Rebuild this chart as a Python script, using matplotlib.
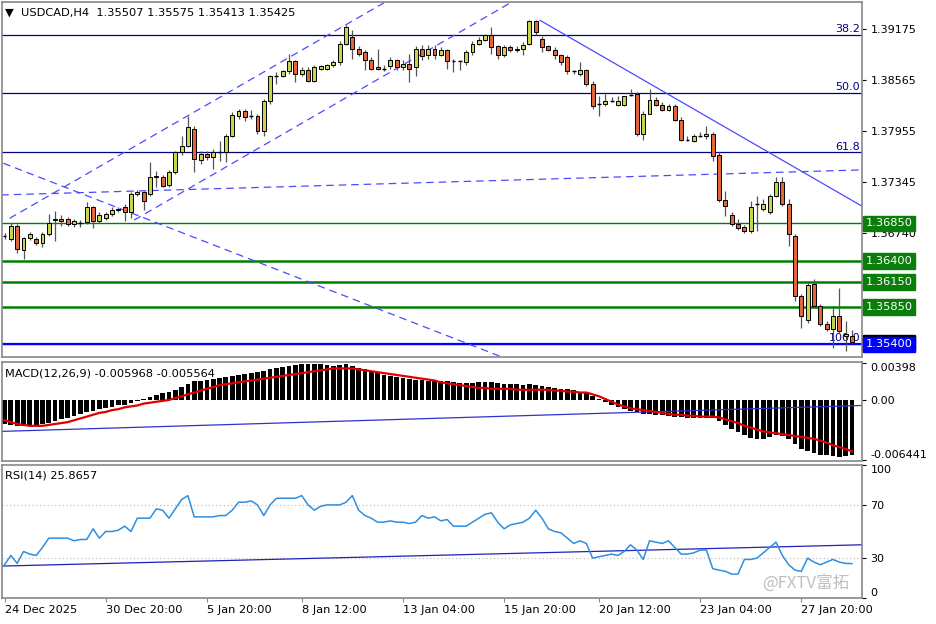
import numpy as np
import matplotlib
matplotlib.use("Agg")
import matplotlib.pyplot as plt
from matplotlib.transforms import blended_transform_factory as btf

# ---- price data (units of 1e-4) ----
opens_p = [13670,13666,13682,13653,13668,13666,13662,13672,13689,13690,13690,13684,13686,13687,13704,13688,13692,13696,13701,13704,
 13698,13720,13722,13720,13741,13741,13731,13747,13770,13778,13798,13761,13768,13764,13770,13771,13790,13814,13820,13814,
 13814,13795,13831,13862,13862,13867,13879,13864,13869,13856,13870,13870,13874,13878,13900,13908,13894,13890,13881,13872,
 13870,13873,13880,13872,13876,13872,13894,13886,13894,13887,13892,13879,13879,13878,13890,13900,13905,13910,13897,13886,
 13896,13892,13894,13900,13927,13906,13897,13893,13886,13884,13867,13864,13868,13852,13828,13828,13832,13827,13827,13839,
 13840,13792,13816,13833,13827,13821,13826,13809,13785,13784,13790,13789,13792,13767,13713,13695,13684,13681,13676,13708,
 13702,13699,13718,13734,13708,13670,13598,13569,13612,13586,13564,13558,13574,13550,13550.7]
closes_p = [13670,13682,13654,13668,13672,13662,13672,13686,13690,13688,13684,13688,13686,13704,13688,13695,13696,13701,13702,13698,
 13720,13723,13712,13740,13742,13730,13747,13770,13778,13800,13762,13768,13764,13770,13770,13790,13815,13819,13812,13814,
 13795,13832,13861,13862,13867,13879,13864,13869,13856,13872,13873,13874,13878,13900,13920,13894,13888,13880,13870,13870,
 13870,13881,13872,13876,13870,13894,13885,13894,13887,13892,13879,13879,13879,13890,13900,13905,13910,13896,13886,13896,
 13892,13894,13899,13927,13914,13896,13893,13886,13878,13867,13867,13869,13852,13826,13828,13832,13832,13832,13837,13839,
 13792,13816,13833,13827,13821,13826,13809,13785,13785,13790,13790,13792,13766,13713,13706,13684,13680,13676,13704,13708,
 13708,13718,13734,13708,13672,13598,13574,13611,13586,13564,13558,13574,13556,13552,13542.5]
highs_p = [13674,13686,13684,13669,13675,13669,13675,13696,13700,13695,13693,13690,13689,13710,13706,13698,13699,13704,13705,13708,
 13723,13725,13724,13758,13748,13743,13749,13772,13790,13814,13801,13772,13772,13774,13784,13792,13818,13822,13822,13821,
 13816,13834,13863,13866,13869,13888,13881,13872,13872,13874,13875,13876,13880,13903,13922,13917,13897,13892,13884,13894,
 13874,13884,13882,13880,13888,13897,13898,13899,13898,13896,13894,13882,13881,13892,13903,13908,13912,13920,13899,13898,
 13898,13897,13902,13928,13928,13909,13899,13896,13888,13886,13869,13878,13870,13855,13838,13840,13836,13838,13838,13846,
 13842,13819,13846,13836,13830,13828,13828,13812,13789,13792,13794,13801,13794,13770,13724,13698,13690,13683,13712,13718,
 13714,13720,13740,13740,13714,13672,13600,13616,13618,13588,13568,13586,13608,13568,13557.5]
lows_p = [13666,13664,13650,13642,13665,13659,13657,13670,13664,13682,13682,13681,13681,13684,13680,13686,13689,13694,13699,13688,
 13692,13718,13701,13718,13728,13728,13729,13744,13767,13776,13746,13756,13761,13750,13760,13758,13788,13810,13808,13810,
 13792,13790,13828,13852,13860,13864,13854,13862,13854,13854,13868,13868,13872,13875,13898,13882,13885,13868,13868,13868,
 13867,13870,13869,13869,13854,13862,13880,13882,13882,13885,13870,13866,13868,13874,13886,13898,13903,13888,13882,13884,
 13890,13890,13886,13898,13910,13890,13891,13882,13875,13864,13864,13862,13849,13822,13814,13826,13830,13825,13825,13837,
 13790,13785,13831,13825,13819,13819,13807,13783,13783,13782,13788,13786,13760,13711,13694,13682,13677,13674,13674,13676,
 13700,13696,13716,13706,13658,13592,13560,13566,13584,13562,13556,13536,13554,13532,13541.3]

# MACD histogram and signal (units of 1e-4)
macd_hist = [-26,-27,-28,-28,-28,-27,-26,-25,-23,-21,-19,-17,-15,-13,-12,-10,-9,-8,-6,-5,-3,-1,1,3,5,7,9,11,14,17,20,
 21,22,23,24,25,26,27,28,29,30,31,33,35,36,37,38,39,39,39,39,38,37,38,39,37,35,33,31,29,27,
 26,25,24,23,22,22,21,21,20,20,19,18,18,18,19,19,19,18,17,17,17,16,17,16,15,14,13,12,12,11,9,7,
 4,1,-2,-5,-8,-10,-12,-13,-15,-15,-16,-16,-17,-18,-18,-19,-19,-19,-19,-20,-23,-27,-31,-35,
 -38,-41,-42,-42,-40,-38,-39,-42,-48,-53,-55,-57,-59,-60,-61,-62,-61,-59.68]
macd_signal = [-22,-24,-26,-27,-28,-28,-28,-27,-26,-25,-24,-22,-20,-18,-16,-14,-13,-11,-10,-8,
 -7,-6,-4,-3,-2,-1,0,2,4,6,8,10,12,14,16,17,18,19,20,21,22,23,24,25,26,27,28,29,30,31,
 32,33,34,34,34,34,33,32,31,30,29,28,27,26,25,24,23,22,21,19,18,17,16,15,14,13,13,12,12,12,
 12,11,11,11,11,11,11,10,10,9,9,8,8,6,4,1,-2,-5,-7,-9,-10,-11,-12,-13,-14,-15,-16,-16,-17,-17,
 -18,-18,-18,-19,-21,-23,-25,-28,-30,-32,-34,-35,-36,-37,-38,-39,-40,-41,-42,-44,-46,-49,-51,-53,-55.64]
rsi = [25,32,26,35,33,32,38,45,45,45,45,43,44,44,52,45,50,50,51,54,50,60,60,60,67,66,60,67,74,77,
 61,61,61,61,62,62,66,72,72,73,70,62,70,75,75,75,75,77,70,66,69,70,70,70,72,77,66,62,60,57,
 57,58,57,57,56,57,62,60,61,58,59,54,54,54,57,60,63,64,57,52,55,56,57,60,66,60,52,50,49,45,
 41,43,41,30,31,32,33,32,35,40,36,29,43,42,41,43,38,33,33,34,36,36,22,21,20,18,18,29,29,30,
 34,38,42,32,25,21,20,30,27,25,27,29,27,26,25.8657]

fib_levels = [1.3911, 1.3841, 1.3770, 1.3541]
fib_names = ["38.2", "50.0", "61.8", "100.0"]
green_levels = [1.3685, 1.3640, 1.3615, 1.3585]
blue_level = 1.3540
price_ticks = [1.39175, 1.38565, 1.37955, 1.37345, 1.36740]
date_labels = ["24 Dec 2025", "30 Dec 20:00", "5 Jan 20:00", "8 Jan 12:00", "13 Jan 04:00",
               "15 Jan 20:00", "20 Jan 12:00", "23 Jan 04:00", "27 Jan 20:00"]
date_pos = [0, 16, 32, 47, 63, 79, 94, 110, 126]
# trend lines: (bar, price) endpoints
dashed_lines = [((0.8, 1.3691), (60, 1.3949)), ((20.5, 1.3689), (80, 1.3949)),
                ((-0.2, 1.3757), (79, 1.3524)), ((-0.5, 1.3719), (135.5, 1.3749))]
solid_line = ((84.7, 1.3928), (135.5, 1.3706))
macd_trend = ((-0.5, -34), (135.5, -6))
rsi_trend = ((-0.5, 24), (135.5, 40))

O = np.array(opens_p) / 1e4; C = np.array(closes_p) / 1e4
H = np.array(highs_p) / 1e4; L = np.array(lows_p) / 1e4
hist = np.array(macd_hist) / 1e4; sig = np.array(macd_signal) / 1e4
n = len(O); x = np.arange(n)
XL = (-0.4, 135.6)

plt.rcParams['font.family'] = ['DejaVu Sans']
fig = plt.figure(figsize=(9.36, 6.24), dpi=100)
W, Hh = 936, 624
def rect(l, t, r, b):
    return [l / W, 1 - b / Hh, (r - l) / W, (b - t) / Hh]
ax = fig.add_axes(rect(2, 2, 862, 357))
axm = fig.add_axes(rect(2, 362, 862, 461))
axr = fig.add_axes(rect(2, 465, 862, 598))

for a in (ax, axm, axr):
    a.set_xlim(*XL)
    for s in a.spines.values():
        s.set_color('#888888'); s.set_linewidth(1.2)
    a.yaxis.tick_right()
    a.tick_params(axis='y', labelsize=8, length=3, pad=3, colors='black')
    a.tick_params(axis='x', bottom=False, labelbottom=False)

# ---- price panel ----
ax.set_ylim(1.3525, 1.3950)
for lv in fib_levels:
    ax.axhline(lv, color='#000080', lw=0.9)
ax.axhline(blue_level, color='#0000ff', lw=1.6)
for i, lv in enumerate(green_levels):
    ax.axhline(lv, color='#008000', lw=1.0 if i == 0 else 1.8)
for (p0, p1) in dashed_lines:
    ax.plot([p0[0], p1[0]], [p0[1], p1[1]], color='#4a4aff', lw=0.9, dashes=(6, 4))
ax.plot([solid_line[0][0], solid_line[1][0]], [solid_line[0][1], solid_line[1][1]], color='#4a4aff', lw=0.9)
for nm, lv in zip(fib_names, fib_levels):
    ax.text(135.3, lv + 0.0001, nm, ha='right', va='bottom', color='#000080', fontsize=8)

bw = 0.62
for i in range(n):
    bull = C[i] >= O[i]
    ax.vlines(x[i], L[i], H[i], color='#555555', lw=0.9, zorder=3)
    lo, hi = min(O[i], C[i]), max(O[i], C[i])
    if hi - lo < 0.00003:
        ax.hlines(O[i], x[i] - bw / 2, x[i] + bw / 2, color='black', lw=1.0, zorder=4)
    else:
        ax.add_patch(plt.Rectangle((x[i] - bw / 2, lo), bw, hi - lo,
                     facecolor='#c8d44e' if bull else '#e2663a', edgecolor='black', lw=0.7, zorder=4))

ax.set_yticks(price_ticks)
ax.set_yticklabels([f"{t:.5f}" for t in price_ticks])
tr = btf(ax.transAxes, ax.transData)
ax.text(1.004, 1.35425, "1.35425", transform=tr, ha='left', va='center', color='white', fontsize=8.2,
        bbox=dict(boxstyle='square,pad=0.2', fc='black', ec='black'), clip_on=False, zorder=5)
for lv in green_levels:
    ax.text(1.004, lv, f"{lv:.5f}", transform=tr, ha='left', va='center', color='white', fontsize=8.2,
            bbox=dict(boxstyle='square,pad=0.25', fc='#0a7d0a', ec='#0a7d0a'), clip_on=False, zorder=6)
ax.text(1.004, blue_level, f"{blue_level:.5f}", transform=tr, ha='left', va='center', color='white', fontsize=8.2,
        bbox=dict(boxstyle='square,pad=0.25', fc='#0000ff', ec='#0000ff'), clip_on=False, zorder=7)
ax.text(0.004, 0.985, "\u25bc  USDCAD,H4  1.35507 1.35575 1.35413 1.35425", transform=ax.transAxes,
        ha='left', va='top', fontsize=8.2)

# ---- MACD panel ----
axm.set_ylim(-0.0066, 0.0041)
axm.bar(x, hist, width=0.75, color='black', zorder=2)
axm.plot(x, sig, color='#e00000', lw=1.6, zorder=3)
axm.plot([macd_trend[0][0], macd_trend[1][0]], [macd_trend[0][1] / 1e4, macd_trend[1][1] / 1e4], color='#3030cc', lw=0.9)
axm.set_yticks([0.00398, 0.0, -0.006441])
axm.set_yticklabels(["0.00398", "0.00", "-0.006441"])
tl = axm.get_yticklabels()
tl[0].set_verticalalignment('top')
tl[2].set_verticalalignment('bottom')
axm.text(0.004, 0.93, "MACD(12,26,9) -0.005968 -0.005564", transform=axm.transAxes, ha='left', va='top', fontsize=8.2)

# ---- RSI panel ----
axr.set_ylim(0, 100)
for lv in (70, 30):
    axr.axhline(lv, color='#c0c0c0', lw=0.9, ls=(0, (1, 2)))
axr.plot([rsi_trend[0][0], rsi_trend[1][0]], [rsi_trend[0][1], rsi_trend[1][1]], color='#2020bb', lw=0.9)
axr.plot(x, rsi, color='#2e8fe0', lw=1.1)
axr.set_yticks([100, 70, 30, 0])
axr.set_yticklabels(["100", "70", "30", "0"])
rl = axr.get_yticklabels()
rl[0].set_verticalalignment('top')
rl[3].set_verticalalignment('bottom')
axr.text(0.004, 0.96, "RSI(14) 25.8657", transform=axr.transAxes, ha='left', va='top', fontsize=8.2)
axr.text(0.985, 0.05, "@FXTV富拓", transform=axr.transAxes, ha='right', va='bottom', fontsize=12,
         color='#b8b8b8', family=['Noto Sans CJK SC', 'DejaVu Sans'], alpha=0.9)

axr.set_xticks(date_pos)
axr.set_xticklabels(date_labels, ha='left')
axr.tick_params(axis='x', bottom=True, labelbottom=True, labelsize=8.2, length=3, pad=2, color='#888888')

fig.savefig("out.png", dpi=100, facecolor='white')
